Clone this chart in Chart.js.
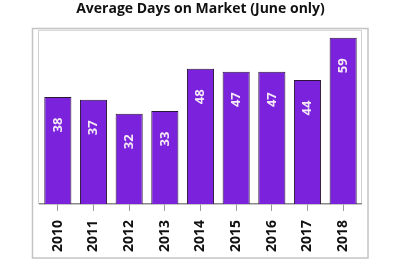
<!DOCTYPE html>
<html>
<head>
<meta charset="utf-8">
<script src="https://cdn.jsdelivr.net/npm/chart.js@4/dist/chart.umd.min.js"></script>
<style>
  html, body { margin: 0; padding: 0; background: #fff; }
  #wrap { width: 400px; height: 271px; }
</style>
</head>
<body>
<div id="wrap"><canvas id="myChart" width="400" height="271"></canvas></div>
<script>
const years = ["2010", "2011", "2012", "2013", "2014", "2015", "2016", "2017", "2018"];
const daysOnMarket = [38, 37, 32, 33, 48, 47, 47, 44, 59];

const FONT = "'Open Sans', sans-serif";

// grey frames + value labels inside the bars
const framePlugin = {
  id: "frames",
  beforeDraw(chart) {
    const c = chart.ctx;
    const a = chart.chartArea;
    c.save();
    c.strokeStyle = "#c4c4c4";
    c.lineWidth = 1.5;
    c.strokeRect(32.5, 28.5, 335.5, 229.5);
    c.strokeStyle = "#cfcfcf";
    c.lineWidth = 1;
    c.beginPath();
    c.moveTo(a.left - 1.5, a.bottom);
    c.lineTo(a.left - 1.5, a.top - 0.5);
    c.lineTo(a.right + 0.5, a.top - 0.5);
    c.lineTo(a.right + 0.5, a.bottom);
    c.stroke();
    c.restore();
  },
  afterDatasetsDraw(chart) {
    const c = chart.ctx;
    const meta = chart.getDatasetMeta(0);
    c.save();
    c.fillStyle = "#f6e9f6";
    c.font = "bold 13px " + FONT;
    c.textAlign = "center";
    c.textBaseline = "middle";
    meta.data.forEach((bar, i) => {
      c.save();
      c.translate(bar.x, bar.y + 28);
      c.rotate(-Math.PI / 2);
      c.fillText(String(daysOnMarket[i]), 0, 0);
      c.restore();
    });
    c.restore();
  },
};

var ctx = document.getElementById("myChart").getContext("2d");
var myChart = new Chart(ctx, {
  type: "bar",
  data: {
    labels: years,
    datasets: [
      {
        data: daysOnMarket,
        backgroundColor: "#7a22dc",
        borderColor: "#2a1638",
        borderWidth: 1,
        borderSkipped: "bottom",
        barPercentage: 0.76,
        categoryPercentage: 1,
      },
    ],
  },
  options: {
    responsive: false,
    animation: false,
    layout: { padding: { left: 40, right: 39, top: 0, bottom: 10 } },
    plugins: {
      legend: { display: false },
      tooltip: { enabled: false },
      title: {
        display: true,
        text: "Average Days on Market (June only)",
        color: "#111",
        font: { family: FONT, size: 14, weight: "bold" },
        padding: { top: 1, bottom: 13 },
      },
    },
    scales: {
      x: {
        grid: { display: true, offset: false, drawOnChartArea: false, drawTicks: true, tickLength: 7, color: "#999" },
        border: { display: true, color: "#8a8a8a", width: 1.5 },
        ticks: {
          color: "#111",
          minRotation: 90,
          maxRotation: 90,
          padding: 9,
          font: { family: FONT, size: 14, weight: "bold" },
        },
      },
      y: {
        display: false,
        min: 0,
        max: 61.5,
      },
    },
  },
  plugins: [framePlugin],
});
</script>
</body>
</html>
